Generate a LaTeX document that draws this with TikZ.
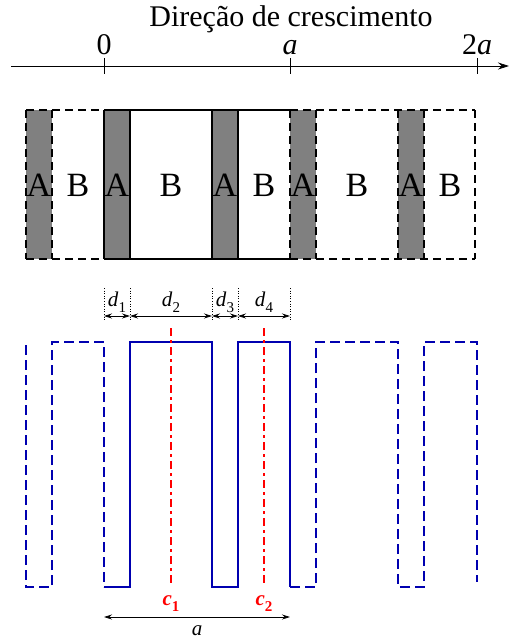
\documentclass[tikz,border=0pt]{standalone}
\usepackage{fontspec}
\setmainfont{Liberation Serif}
\usetikzlibrary{arrows.meta}
\definecolor{wave}{RGB}{0,0,176}
\definecolor{strip}{RGB}{128,128,128}
\newcommand\mysub[1]{\raisebox{-0.3em}{\fontsize{15}{15}\selectfont #1}}
\tikzset{
  big/.style={font=\fontsize{30}{36}\selectfont, inner sep=0pt, anchor=base},
  layer/.style={font=\fontsize{34}{40}\selectfont, inner sep=0pt, anchor=base},
  small/.style={font=\fontsize{21}{24}\selectfont, inner sep=0pt, anchor=base},
  boxline/.style={line width=1.4pt, black},
  boxdash/.style={line width=1.4pt, black, dash pattern=on 8pt off 5pt},
  wavesolid/.style={line width=2.2pt, wave, line join=miter},
  wavedash/.style={line width=2.2pt, wave, dash pattern=on 10pt off 5pt},
  redline/.style={line width=2pt, red, dash pattern=on 8pt off 4pt on 3pt off 4pt},
  guide/.style={line width=0.6pt, black, dotted},
  dimarrow/.style={line width=0.8pt, black, {Stealth[length=8pt,width=5pt]}-{Stealth[length=8pt,width=5pt]}},
}
\begin{document}
\begin{tikzpicture}[x=1pt,y=-1pt]
\useasboundingbox (0,0) rectangle (509,641);
% axis
\coordinate (axL) at (11,66);
\coordinate (axR) at (509,66);
\draw[line width=0.8pt, -{Stealth[length=11pt,width=7pt]}] (axL) -- (axR);
\foreach \x in {104,290,477} \draw[line width=0.8pt] (\x,58) -- (\x,74);
\node[big] (title) at (291,26) {Direção de crescimento};
\node[big] (t0) at (104,54) {0};
\node[big] (ta) at (290,54) {\textit{a}};
\node[big] (t2a) at (477,54) {2\textit{a}};
% strips
\foreach \x in {26,104,212,290,398} \fill[strip] (\x,110) rectangle ++(26,149);
\draw[boxline] (104,110) -- (290,110) (104,259) -- (290,259);
\foreach \x in {104,130,212,238} \draw[boxline] (\x,110) -- (\x,259);
\draw[boxdash] (26,110) -- (104,110) (290,110) -- (475,110) (26,259) -- (104,259) (290,259) -- (475,259);
\foreach \x in {26,52,290,316,398,424,475} \draw[boxdash] (\x,110) -- (\x,259);
% labels A B
\node[layer] (A1) at (39,196) {A};
\node[layer] (B1) at (78,196) {B};
\node[layer] (A2) at (117,196) {A};
\node[layer] (B2) at (171,196) {B};
\node[layer] (A3) at (225,196) {A};
\node[layer] (B3) at (264,196) {B};
\node[layer] (A4) at (303,196) {A};
\node[layer] (B4) at (357,196) {B};
\node[layer] (A5) at (411,196) {A};
\node[layer] (B5) at (450,196) {B};
% dimension guides
\foreach \x in {104,130,212,238,290} \draw[guide] (\x,288) -- (\x,321);
\coordinate (g0) at (104,316);
\coordinate (g1) at (130,316);
\coordinate (g2) at (212,316);
\coordinate (g3) at (238,316);
\coordinate (g4) at (290,316);
\draw[dimarrow] (g0) -- (g1);
\draw[dimarrow] (g1) -- (g2);
\draw[dimarrow] (g2) -- (g3);
\draw[dimarrow] (g3) -- (g4);
\node[small] (d1) at (117,306) {\textit{d}\mysub{1}};
\node[small] (d2) at (171,306) {\textit{d}\mysub{2}};
\node[small] (d3) at (225,306) {\textit{d}\mysub{3}};
\node[small] (d4) at (264,306) {\textit{d}\mysub{4}};
% wave
\draw[wavedash] (26,345) -- (26,587) -- (52,587) -- (52,342) -- (104,342) -- (104,587);
\draw[wavesolid] (104,587) -- (130,587) -- (130,342) -- (212,342) -- (212,587) -- (238,587) -- (238,342) -- (290,342) -- (290,587);
\draw[wavedash] (290,587) -- (316,587) -- (316,342) -- (398,342) -- (398,587) -- (424,587) -- (424,342) -- (477,342) -- (477,582);
% centers
\draw[redline] (171,328) -- (171,584);
\draw[redline] (264,328) -- (264,584);
\node[small, text=red] (c1) at (171,605) {\textbf{\textit{c}}\mysub{\textbf{1}}};
\node[small, text=red] (c2) at (264,605) {\textbf{\textit{c}}\mysub{\textbf{2}}};
% period
\coordinate (pL) at (104,617);
\coordinate (pR) at (290,617);
\draw[dimarrow] (pL) -- (pR);
\node[small] (pa) at (197,635) {\textit{a}};
\end{tikzpicture}
\end{document}
